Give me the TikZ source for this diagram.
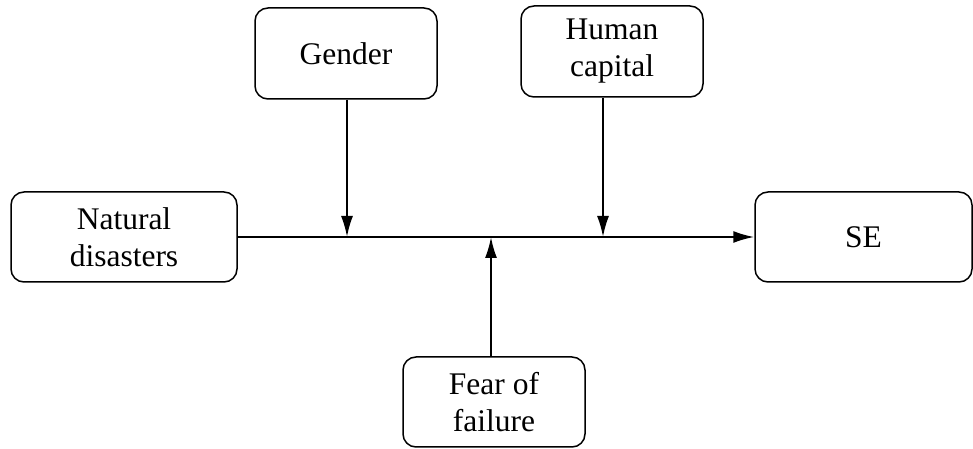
\documentclass[tikz,border=0pt]{standalone}
\usepackage{fontspec}
\setmainfont{Liberation Serif}
\usetikzlibrary{arrows.meta}
\begin{document}
\begin{tikzpicture}[x=1pt,y=1pt,
  box/.style={draw, line width=1.5pt, rounded corners=13pt, align=center,
    inner sep=0pt, font=\fontsize{31.5}{37}\selectfont},
  conn/.style={line width=2pt, -{Latex[length=21pt,width=12pt]}}]
\useasboundingbox (0,0) rectangle (973,449);
\node[box, minimum width=226pt, minimum height=90pt] (nat) at (124,212) {Natural\\disasters};
\node[box, minimum width=182pt, minimum height=91pt] (gen) at (346,395.5) {Gender};
\node[box, minimum width=182pt, minimum height=91pt] (hum) at (612,397.5) {Human\\capital};
\node[box, minimum width=217pt, minimum height=90pt] (se) at (863.5,212) {SE};
\node[box, minimum width=182pt, minimum height=90pt] (fear) at (494,47) {Fear of\\failure};
\coordinate (m1) at (347,212);
\coordinate (m2) at (603,212);
\coordinate (m3) at (491,212);
\draw[conn] (nat.east) -- (se.west);
\draw[conn] (gen.south -| m1) -- (m1);
\draw[conn] (hum.south -| m2) -- (m2);
\draw[conn] (fear.north -| m3) -- (m3);
\end{tikzpicture}
\end{document}
